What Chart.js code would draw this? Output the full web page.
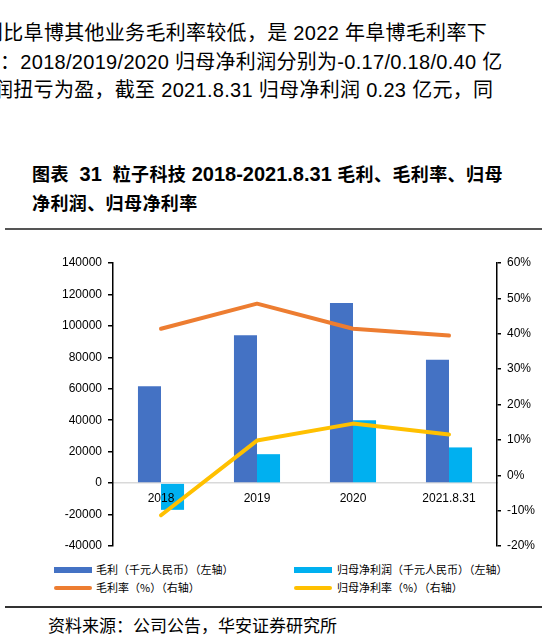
<!DOCTYPE html>
<html>
<head>
<meta charset="utf-8">
<script src="https://cdn.jsdelivr.net/npm/chart.js@4.4.0/dist/chart.umd.min.js"></script>
<style>
  html, body { margin: 0; padding: 0; background: #fff; }
  body { width: 542px; height: 639px; position: relative; overflow: hidden;
         font-family: "Liberation Sans", "Noto Sans CJK SC", sans-serif; color: #000; }
  .para { position: absolute; left: 0; white-space: nowrap; font-size: 20px; letter-spacing: 0.3px; line-height: 28px; }
  .title { position: absolute; left: 32px; font-weight: bold; font-size: 18px; letter-spacing: 0.4px; white-space: nowrap; }
  .title .n { font-size: 20px; letter-spacing: 0; }
  .rule { position: absolute; left: 5px; right: 0; background: #555; }
  #wrap { position: absolute; left: 0; top: 240px; width: 542px; height: 320px; }
  .leg { position: absolute; font-size: 11px; white-space: nowrap; font-family: "Noto Sans CJK SC", sans-serif; }
  .sw { position: absolute; width: 38px; }
  .src { position: absolute; left: 48px; top: 612px; font-size: 17px; font-family: "Noto Sans CJK SC", sans-serif; }
</style>
</head>
<body>
<div class="para" style="top:19px;left:-17px">则比阜博其他业务毛利率较低，是 2022 年阜博毛利率下</div>
<div class="para" style="top:48px;left:0px">：2018/2019/2020 归母净利润分别为-0.17/0.18/0.40 亿</div>
<div class="para" style="top:76px;left:-7px">润扭亏为盈，截至 2021.8.31 归母净利润 0.23 亿元，同</div>

<div class="title" style="top:160px">图表&nbsp;&nbsp;<span class="n">31</span>&nbsp;&nbsp;粒子科技&nbsp;<span class="n">2018-2021.8.31</span>&nbsp;毛利、毛利率、归母</div>
<div class="title" style="top:189px">净利润、归母净利率</div>
<div class="rule" style="top:228px;height:2px"></div>

<div id="wrap"><canvas id="chart"></canvas></div>

<div class="sw" style="left:54px;top:567px;height:6px;background:#4472C4"></div>
<div class="leg" style="left:96px;top:561px">毛利（千元人民币）（左轴）</div>
<div class="sw" style="left:294px;top:567px;height:6px;background:#00B0F0"></div>
<div class="leg" style="left:337px;top:561px">归母净利润（千元人民币）（左轴）</div>
<div class="sw" style="left:54px;top:586px;height:4px;border-radius:2px;background:#ED7D31"></div>
<div class="leg" style="left:96px;top:579px">毛利率（%）（右轴）</div>
<div class="sw" style="left:294px;top:586px;height:4px;border-radius:2px;background:#FFC000"></div>
<div class="leg" style="left:337px;top:579px">归母净利率（%）（右轴）</div>

<div class="rule" style="top:606px;height:2px;background:#333"></div>
<div class="src">资料来源：公司公告，华安证券研究所</div>

<script>
// categories and series
const categories = ['2018', '2019', '2020', '2021.8.31'];
const grossProfit = [61600, 94000, 114500, 78500];      // 毛利, 千元
const netProfit = [-17000, 18400, 40000, 22700];        // 归母净利润, 千元
const grossMargin = [41.4, 48.5, 41.4, 39.5];           // 毛利率, %
const netMargin = [-11.3, 9.8, 14.6, 11.5];             // 归母净利率, %

const tickFont = { family: '"Liberation Sans", Arial, sans-serif', size: 12 };

new Chart(document.getElementById('chart').getContext('2d'), {
  type: 'bar',
  data: {
    labels: categories,
    datasets: [
      {
        type: 'line',
        label: '毛利率（%）（右轴）',
        data: grossMargin,
        yAxisID: 'y1',
        borderColor: '#ED7D31',
        borderWidth: 4,
        borderCapStyle: 'round',
        borderJoinStyle: 'round',
        pointRadius: 0,
        tension: 0,
        order: 0,
      },
      {
        type: 'line',
        label: '归母净利率（%）（右轴）',
        data: netMargin,
        yAxisID: 'y1',
        borderColor: '#FFC000',
        borderWidth: 4,
        borderCapStyle: 'round',
        borderJoinStyle: 'round',
        pointRadius: 0,
        tension: 0,
        order: 0,
      },
      {
        label: '毛利（千元人民币）（左轴）',
        data: grossProfit,
        yAxisID: 'y',
        backgroundColor: '#4472C4',
        categoryPercentage: 0.48,
        barPercentage: 1.0,
        order: 1,
      },
      {
        label: '归母净利润（千元人民币）（左轴）',
        data: netProfit,
        yAxisID: 'y',
        backgroundColor: '#00B0F0',
        categoryPercentage: 0.48,
        barPercentage: 1.0,
        order: 1,
      },
    ],
  },
  options: {
    responsive: true,
    maintainAspectRatio: false,
    animation: false,
    layout: { padding: { top: 23, bottom: 14, left: 0, right: 0 } },
    plugins: { legend: { display: false }, tooltip: { enabled: false } },
    scales: {
      x: {
        position: { y: 0 },
        grid: { drawOnChartArea: false, drawTicks: false },
        border: { color: '#d9d9d9', width: 1.5 },
        ticks: { z: 1, color: '#000', font: tickFont, padding: 8, maxRotation: 0 },
      },
      y: {
        position: 'left',
        min: -40000,
        max: 140000,
        afterFit: (s) => { s.width = 113; },
        grid: { drawOnChartArea: false, drawTicks: true, tickLength: 5, color: '#000', lineWidth: 1.5 },
        border: { color: '#000', width: 1.5 },
        ticks: { stepSize: 20000, color: '#000', font: tickFont, padding: 6, callback: (v) => String(v) },
      },
      y1: {
        position: 'right',
        min: -20,
        max: 60,
        afterFit: (s) => { s.width = 45; },
        grid: { drawOnChartArea: false, drawTicks: true, tickLength: 4, color: '#000', lineWidth: 1.5 },
        border: { color: '#000', width: 1.5 },
        ticks: { stepSize: 10, color: '#000', font: tickFont, padding: 6, callback: (v) => v + '%' },
      },
    },
  },
});
</script>
</body>
</html>
